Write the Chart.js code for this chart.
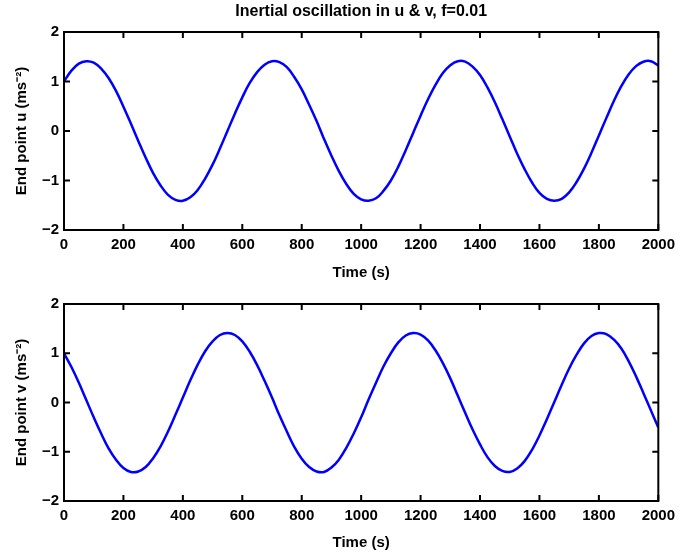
<!DOCTYPE html>
<html>
<head>
<meta charset="utf-8">
<script src="https://cdn.jsdelivr.net/npm/chart.js@4.4.1/dist/chart.umd.min.js"></script>
<style>
  html, body { margin: 0; padding: 0; background: #fff; }
  #wrap { position: relative; width: 681px; height: 556px; }
  .box { position: absolute; left: 0; width: 681px; }
</style>
</head>
<body>
<div id="wrap">
  <div class="box" style="top:0;height:284px"><canvas id="uChart"></canvas></div>
  <div class="box" style="top:284px;height:272px"><canvas id="vChart"></canvas></div>
</div>
<script>
const times = [0, 25, 50, 75, 100, 125, 150, 175, 200, 225, 250, 275, 300, 325, 350, 375,
  400, 425, 450, 475, 500, 525, 550, 575, 600, 625, 650, 675, 700, 725, 750, 775,
  800, 825, 850, 875, 900, 925, 950, 975, 1000, 1025, 1050, 1075, 1100, 1125, 1150, 1175,
  1200, 1225, 1250, 1275, 1300, 1325, 1350, 1375, 1400, 1425, 1450, 1475, 1500, 1525, 1550, 1575,
  1600, 1625, 1650, 1675, 1700, 1725, 1750, 1775, 1800, 1825, 1850, 1875, 1900, 1925, 1950, 1975, 2000];

const uValues = [1.00, 1.22, 1.36, 1.41, 1.38, 1.26, 1.07, 0.81, 0.49, 0.15, -0.20, -0.54, -0.85, -1.10, -1.29, -1.39,
  -1.41, -1.34, -1.19, -0.96, -0.68, -0.35, 0.00, 0.35, 0.68, 0.97, 1.19, 1.34, 1.41, 1.39, 1.29, 1.09,
  0.84, 0.53, 0.20, -0.16, -0.50, -0.81, -1.07, -1.27, -1.38, -1.41, -1.36, -1.21, -1.00, -0.72, -0.39, -0.04,
  0.31, 0.64, 0.93, 1.17, 1.33, 1.41, 1.40, 1.30, 1.13, 0.88, 0.58, 0.24, -0.11, -0.46, -0.77, -1.04,
  -1.25, -1.37, -1.41, -1.37, -1.24, -1.03, -0.76, -0.44, -0.09, 0.26, 0.60, 0.90, 1.14, 1.31, 1.40, 1.41, 1.32];

const vValues = [1.00, 0.72, 0.40, 0.05, -0.30, -0.63, -0.93, -1.16, -1.33, -1.41, -1.40, -1.31, -1.13, -0.89, -0.59, -0.25,
  0.10, 0.45, 0.77, 1.04, 1.24, 1.37, 1.41, 1.37, 1.24, 1.03, 0.76, 0.44, 0.10, -0.26, -0.59, -0.90,
  -1.14, -1.31, -1.40, -1.41, -1.32, -1.16, -0.92, -0.63, -0.30, 0.06, 0.40, 0.73, 1.00, 1.22, 1.36, 1.41,
  1.38, 1.26, 1.06, 0.80, 0.49, 0.14, -0.21, -0.55, -0.85, -1.11, -1.29, -1.39, -1.41, -1.34, -1.19, -0.96,
  -0.67, -0.34, 0.01, 0.36, 0.69, 0.97, 1.20, 1.35, 1.41, 1.39, 1.28, 1.10, 0.84, 0.53, 0.19, -0.16, -0.51];

const xTicks = [0, 200, 400, 600, 800, 1000, 1200, 1400, 1600, 1800, 2000];
const yTicks = [-2, -1, 0, 1, 2];

const FONT = '"Liberation Sans", Arial, Helvetica, sans-serif';

// matlab style box with inward ticks on all four sides
const boxTicks = {
  id: "boxTicks",
  afterDatasetsDraw(chart) {
    const { ctx, chartArea: a, scales } = chart;
    ctx.save();
    ctx.strokeStyle = "#000";
    ctx.lineWidth = 2;
    ctx.beginPath();
    xTicks.forEach((t) => {
      const px = scales.x.getPixelForValue(t);
      ctx.moveTo(px, a.bottom);
      ctx.lineTo(px, a.bottom - 6);
      ctx.moveTo(px, a.top);
      ctx.lineTo(px, a.top + 6);
    });
    yTicks.forEach((t) => {
      const py = scales.y.getPixelForValue(t);
      ctx.moveTo(a.left, py);
      ctx.lineTo(a.left + 6, py);
      ctx.moveTo(a.right, py);
      ctx.lineTo(a.right - 6, py);
    });
    ctx.stroke();
    ctx.strokeRect(a.left, a.top, a.right - a.left, a.bottom - a.top);
    ctx.restore();
  },
};

function makeChart(id, values, yLabel, opts) {
  return new Chart(document.getElementById(id), {
    type: "line",
    data: {
      datasets: [
        {
          data: times.map((t, i) => ({ x: t, y: values[i] })),
          borderColor: "#0000ff",
          borderWidth: 2.5,
          pointRadius: 0,
          tension: 0.4,
          fill: false,
        },
      ],
    },
    options: {
      responsive: true,
      maintainAspectRatio: false,
      animation: false,
      layout: { padding: { left: 0, right: 21, top: opts.padTop, bottom: 0 } },
      plugins: {
        legend: { display: false },
        tooltip: { enabled: false },
        title: opts.title
          ? {
              display: true,
              text: opts.title,
              fullSize: false,
              color: "#000",
              font: { family: FONT, size: 16, weight: "bold" },
              padding: { top: 2.4, bottom: 10.4 },
            }
          : { display: false },
      },
      scales: {
        x: {
          type: "linear",
          min: 0,
          max: 2000,
          afterFit: (s) => { s.height = opts.xHeight; },
          afterBuildTicks: (s) => { s.ticks = xTicks.map((v) => ({ value: v })); },
          grid: { display: false, drawTicks: false },
          border: { display: false },
          ticks: {
            color: "#000",
            padding: 6,
            maxRotation: 0,
            font: { family: FONT, size: 15, weight: "bold" },
            callback: (v) => String(v),
          },
          title: {
            display: true,
            text: "Time (s)",
            color: "#000",
            font: { family: FONT, size: 15, weight: "bold" },
            padding: { top: 0, bottom: opts.xTitlePad },
          },
        },
        y: {
          min: -2,
          max: 2,
          afterFit: (s) => { s.width = 64; },
          afterBuildTicks: (s) => { s.ticks = yTicks.map((v) => ({ value: v })); },
          grid: { display: false, drawTicks: false },
          border: { display: false },
          ticks: {
            color: "#000",
            padding: 5,
            font: { family: FONT, size: 15, weight: "bold" },
            callback: (v) => (v < 0 ? "\u2212" + Math.abs(v) : String(v)),
          },
          title: {
            display: true,
            text: yLabel,
            color: "#000",
            font: { family: FONT, size: 15, weight: "bold" },
            padding: { top: 13, bottom: 0 },
          },
        },
      },
    },
    plugins: [boxTicks],
  });
}

makeChart("uChart", uValues, "End point u (ms\u207B\u00B2)", {
  title: "Inertial oscillation in u & v, f=0.01",
  padTop: 0,
  xHeight: 54,
  xTitlePad: 2,
});

makeChart("vChart", vValues, "End point v (ms\u207B\u00B2)", {
  title: null,
  padTop: 20,
  xHeight: 55,
  xTitlePad: 4,
});
</script>
</body>
</html>
